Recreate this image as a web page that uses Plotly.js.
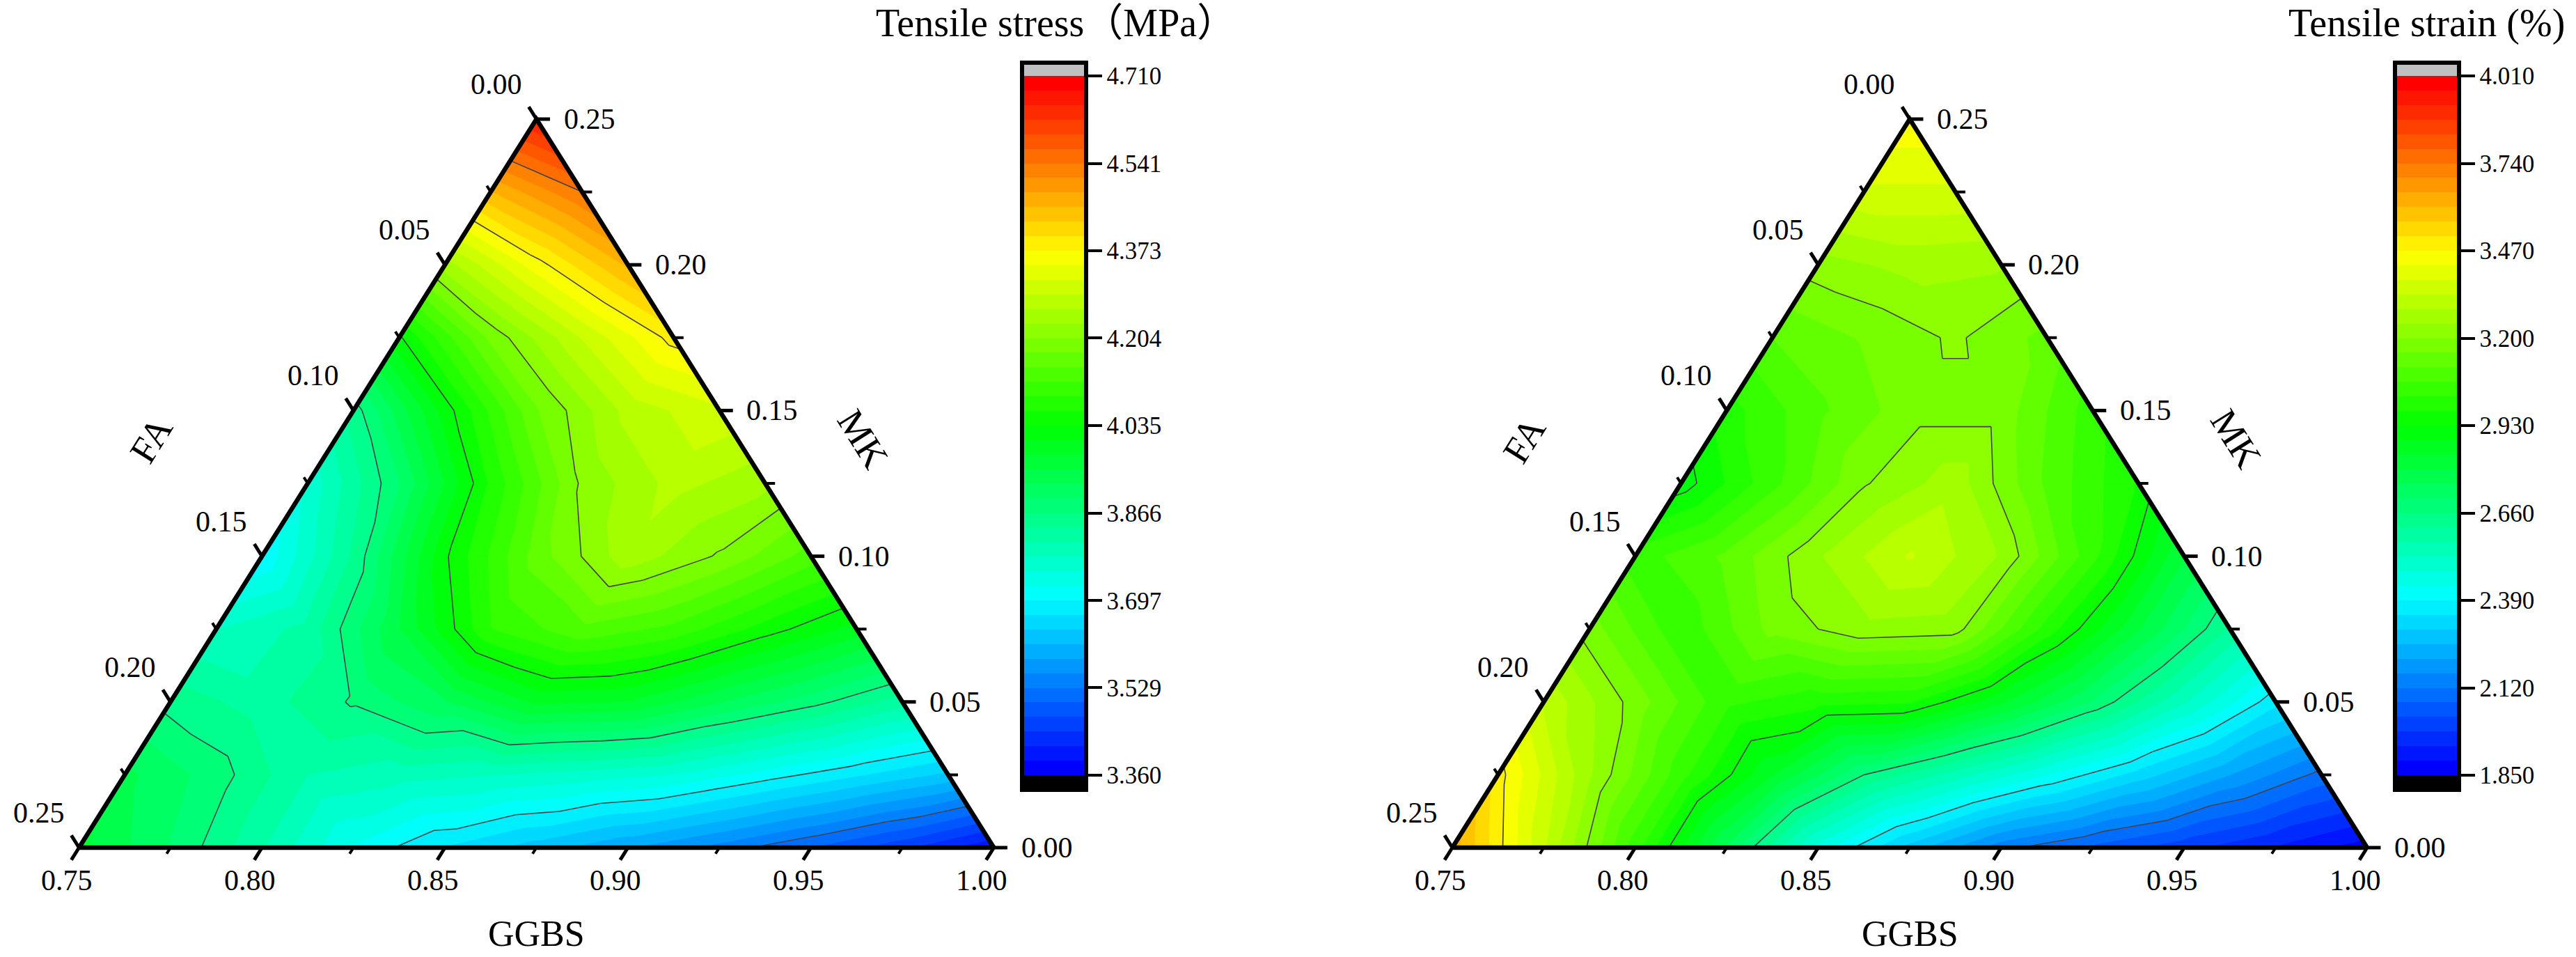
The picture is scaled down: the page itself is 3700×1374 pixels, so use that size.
<!DOCTYPE html>
<html><head><meta charset="utf-8">
<script src="https://cdn.plot.ly/plotly-3.0.1.min.js"></script>
<style>html,body{margin:0;padding:0;background:#fff}#chart{width:3700px;height:1374px}</style>
</head><body><div id="chart"></div>
<script>
// lattice: each row is a constant MK (0, 0.025 ... 0.25); within a row GGBS rises from 0.75 in steps of 0.025
const latticeStep = 0.025;
const stressValues = [
 [3.96,3.893,3.813,3.721,3.667,3.626,3.586,3.545,3.50,3.45,3.39],
 [3.93,3.88,3.81,3.794,3.783,3.769,3.752,3.712,3.673,3.634],
 [3.855,3.825,3.87,3.92,3.985,3.977,3.925,3.878,3.824],
 [3.78,3.82,3.95,4.09,4.14,4.11,4.05,3.995],
 [3.70,3.843,4.03,4.16,4.25,4.2,4.134],
 [3.76,3.892,4.068,4.21,4.27,4.24],
 [3.85,4.02,4.172,4.27,4.31],
 [4.03,4.183,4.29,4.385],
 [4.245,4.36,4.462],
 [4.455,4.541],
 [4.655]
];
const strainValues = [
 [3.63,3.34,3.04,2.74,2.46,2.28,2.135,2.062,1.998,1.934,1.87],
 [3.49,3.25,3.037,2.842,2.66,2.548,2.436,2.324,2.21,2.105],
 [3.327,3.18,3.03,2.99,2.98,2.85,2.70,2.53,2.36],
 [3.177,3.03,3.17,3.23,3.22,3.0,2.80,2.61],
 [3.04,3.12,3.24,3.34,3.24,3.034,2.80],
 [2.905,3.05,3.195,3.27,3.10,2.97],
 [3.0,3.10,3.18,3.18,3.04],
 [3.11,3.16,3.208,3.14],
 [3.224,3.26,3.25],
 [3.37,3.37],
 [3.46]
];
const stressTicks = ["3.360","3.529","3.697","3.866","4.035","4.204","4.373","4.541","4.710"];
const strainTicks = ["1.850","2.120","2.390","2.660","2.930","3.200","3.470","3.740","4.010"];
const ggbsTicks = [0.75,0.80,0.85,0.90,0.95,1.00];
const faTicks = [0.00,0.05,0.10,0.15,0.20,0.25];
const mkTicks = [0.00,0.05,0.10,0.15,0.20,0.25];
const minorTicks = [0.025,0.075,0.125,0.175,0.225];
const rainbow = [[0,0,255],[0,255,255],[0,255,0],[255,255,0],[255,0,0]];
const bandCount = 48;

const serif = '"Liberation Serif","Times New Roman",serif';
const W = 3700, H = 1374;
const plotTop = 171, plotBottom = 1217, plotW = 1314;
const rangePad = 0.01;
const padX = rangePad/0.25*plotW, padY = rangePad/0.25*(plotBottom-plotTop);
const charts = [
 {name:'stress', z:stressValues, ticks:stressTicks, min:3.36, max:4.71, capLo:3.3318, capHi:4.7356,
  left:113.5, barX:1468, title:'Tensile stress（MPa）', titleX:1516, xa:'x', ya:'y'},
 {name:'strain', z:strainValues, ticks:strainTicks, min:1.85, max:4.01, capLo:1.805, capHi:4.051,
  left:2086, barX:3440, title:'Tensile strain (%)', titleX:3485, xa:'x2', ya:'y2'}
];

function bandColor(j){
  const t = j/(bandCount-1)*(rainbow.length-1);
  const k = Math.min(Math.floor(t), rainbow.length-2), f = t-k;
  const c = rainbow[k].map((v,i)=>Math.round(v+(rainbow[k+1][i]-v)*f));
  return 'rgb('+c.join(',')+')';
}
function point(r,c,z){
  const mk=r*latticeStep, ggbs=0.75+c*latticeStep;
  return {x:ggbs+mk/2, y:mk, z:z};
}
function triangles(zz){
  const out=[];
  for(let r=0;r<zz.length-1;r++){
    for(let c=0;c<zz[r].length-1;c++){
      out.push([point(r,c,zz[r][c]),point(r,c+1,zz[r][c+1]),point(r+1,c,zz[r+1][c])]);
      if(c<zz[r+1].length-1) out.push([point(r,c+1,zz[r][c+1]),point(r+1,c+1,zz[r+1][c+1]),point(r+1,c,zz[r+1][c])]);
    }
  }
  return out;
}
function cross(a,b,l){
  const t=(l-a.z)/(b.z-a.z);
  return {x:a.x+(b.x-a.x)*t,y:a.y+(b.y-a.y)*t,z:l};
}
function clip(poly,l,above){
  const res=[]; const inside=p=>above?p.z>=l:p.z<=l;
  for(let i=0;i<poly.length;i++){
    const a=poly[i], b=poly[(i+1)%poly.length];
    if(inside(a)) res.push(a);
    if(inside(a)!==inside(b)) res.push(cross(a,b,l));
  }
  return res;
}
const data=[], annotations=[];
charts.forEach(ch=>{
  const tris=triangles(ch.z);
  const step=(ch.max-ch.min)/bandCount;
  // filled bands
  for(let j=0;j<bandCount;j++){
    const lo=ch.min+j*step, hi=lo+step, xs=[], ys=[];
    tris.forEach(t=>{
      let p=clip(t,j===0?-1e9:lo,true);
      if(p.length) p=clip(p,j===bandCount-1?1e9:hi,false);
      if(p.length>2){ p.forEach(q=>{xs.push(q.x);ys.push(q.y);}); xs.push(p[0].x);ys.push(p[0].y); xs.push(null);ys.push(null); }
    });
    if(xs.length) data.push({type:'scatter',mode:'lines',x:xs,y:ys,xaxis:ch.xa,yaxis:ch.ya,fill:'toself',fillcolor:bandColor(j),
      line:{color:bandColor(j),width:1},hoverinfo:'skip',showlegend:false,cliponaxis:false});
  }
  // contour lines at the tick levels
  const lx=[], ly=[];
  ch.ticks.forEach(s=>{
    const l=parseFloat(s);
    tris.forEach(t=>{
      const pts=[];
      for(let i=0;i<3;i++){
        const a=t[i], b=t[(i+1)%3];
        if((a.z<l)!==(b.z<l)) pts.push(cross(a,b,l));
      }
      if(pts.length===2){ lx.push(pts[0].x,pts[1].x,null); ly.push(pts[0].y,pts[1].y,null); }
    });
  });
  data.push({type:'scatter',mode:'lines',x:lx,y:ly,xaxis:ch.xa,yaxis:ch.ya,line:{color:'#45404a',width:1.6},hoverinfo:'skip',showlegend:false,cliponaxis:false});
  // ticks
  const tick=(vals,lenBottom,lenSide,width)=>{
    const x=[],y=[];
    vals.forEach(v=>{ // v is distance 0..0.25 along each edge
      x.push(0.75+v,0.75+v-lenBottom/2,null); y.push(0,-lenBottom,null);           // GGBS, bottom edge
      const mk=0.25-v, fx=0.75+mk/2;                                                // FA, left edge
      x.push(fx,fx-lenBottom/2,null); y.push(mk,mk+lenBottom,null);
      const rx=1-v/2;                                                               // MK, right edge
      x.push(rx,rx+lenSide,null); y.push(v,v,null);
    });
    data.push({type:'scatter',mode:'lines',x,y,xaxis:ch.xa,yaxis:ch.ya,line:{color:'#000',width},hoverinfo:'skip',showlegend:false,cliponaxis:false});
  };
  tick(faTicks,0.0042,0.0037,5);
  tick(minorTicks,0.0021,0.0027,4);
  // triangle frame
  data.push({type:'scatter',mode:'lines',x:[0.75,0.875,1,0.75],y:[0,0.25,0,0],xaxis:ch.xa,yaxis:ch.ya,line:{color:'#000',width:6.5},hoverinfo:'skip',showlegend:false,cliponaxis:false});
  // colour bar: invisible lattice markers carry it
  const span=ch.capHi-ch.capLo, pos=v=>(v-ch.capLo)/span;
  const scale=[[0,'rgb(0,0,0)'],[pos(ch.min),'rgb(0,0,0)']];
  for(let j=0;j<bandCount;j++){
    const a=pos(ch.min+j*step), b=pos(ch.min+(j+1)*step);
    scale.push([a,bandColor(j)],[b,bandColor(j)]);
  }
  scale.push([pos(ch.max),'rgb(192,192,192)'],[1,'rgb(192,192,192)']);
  const mx=[],my=[],mz=[];
  ch.z.forEach((row,r)=>row.forEach((z,c)=>{const p=point(r,c,z);mx.push(p.x);my.push(p.y);mz.push(z);}));
  data.push({type:'scatter',mode:'markers',x:mx,y:my,xaxis:ch.xa,yaxis:ch.ya,hoverinfo:'skip',showlegend:false,
    marker:{size:2,opacity:0,color:mz,cmin:ch.capLo,cmax:ch.capHi,colorscale:scale,showscale:true,
      colorbar:{x:ch.barX/W,xanchor:'left',xpad:0,y:1-90/H,yanchor:'top',ypad:0,lenmode:'pixels',len:1044,thicknessmode:'pixels',thickness:92,
        outlinewidth:6,outlinecolor:'#000',borderwidth:0,ticks:'outside',ticklen:20,tickwidth:4,tickcolor:'#000',
        tickmode:'array',tickvals:ch.ticks.map(parseFloat),ticktext:ch.ticks,tickfont:{family:serif,size:35,color:'#000'}}}});
  // text
  const note=(text,x,y,dx,dy,size,rot)=>annotations.push({text,x,y,xref:ch.xa,yref:ch.ya,xshift:dx,yshift:-dy,showarrow:false,xanchor:'center',yanchor:'middle',
    font:{family:serif,size,color:'#000'},textangle:rot||0});
  ggbsTicks.forEach(v=>note(v.toFixed(2),v,0,-17.5,47,42));
  faTicks.forEach(v=>{const mk=0.25-v;note(v.toFixed(2),0.75+mk/2,mk,-58,-50,42);});
  mkTicks.forEach(v=>note(v.toFixed(2),1-v/2,v,76,0,42));
  note('GGBS',0.875,0,0,123,52);
  note('FA',0.8125,0.125,-225,-62,54,-58);  // left of the left edge
  note('MK',0.9375,0.125,140,-64,54,58);    // right of the right edge
  annotations.push({text:ch.title,x:ch.titleX/W,y:1-33/H,xref:'paper',yref:'paper',showarrow:false,xanchor:'center',yanchor:'middle',
    font:{family:serif+',"Noto Sans CJK SC"',size:56,color:'#000'}});
});
const axisOff={visible:false,fixedrange:true};
const domX=c=>[(c.left-padX)/W,(c.left+plotW+padX)/W];
const domY=[1-(plotBottom+padY)/H,1-(plotTop-padY)/H];
const rangeX=[0.75-rangePad,1+rangePad], rangeY=[-rangePad,0.25+rangePad];
const layout={width:W,height:H,paper_bgcolor:'#fff',plot_bgcolor:'rgba(0,0,0,0)',showlegend:false,
  margin:{l:0,r:0,t:0,b:0,pad:0,autoexpand:false},annotations,
  xaxis:{...axisOff,range:rangeX,domain:domX(charts[0])},
  yaxis:{...axisOff,range:rangeY,domain:domY},
  xaxis2:{...axisOff,range:rangeX,domain:domX(charts[1])},
  yaxis2:{...axisOff,range:rangeY,domain:domY}
};
Plotly.newPlot('chart',data,layout,{staticPlot:true,displayModeBar:false});
</script></body></html>
